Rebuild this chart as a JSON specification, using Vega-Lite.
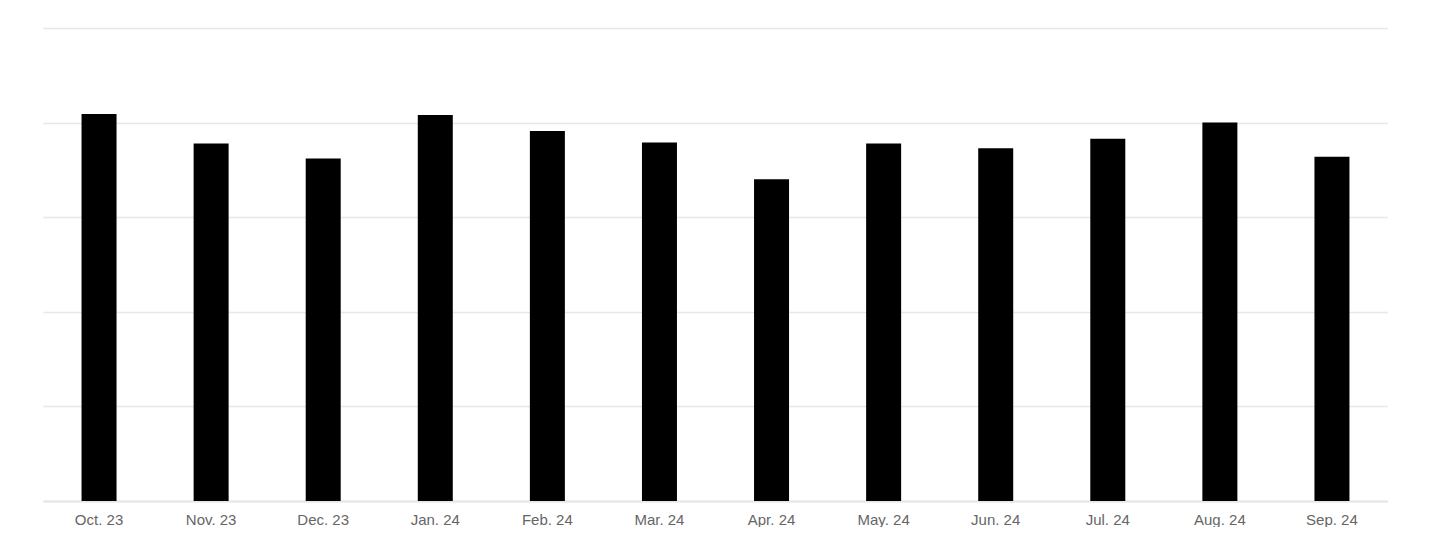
{
  "$schema": "https://vega.github.io/schema/vega-lite/v6.json",
  "width": 1345,
  "height": 473,
  "padding": {"left": 43, "top": 28, "right": 0, "bottom": 0},
  "background": "white",
  "config": {
    "view": {"stroke": null},
    "font": "Liberation Sans"
  },
  "data": {
    "values": [
      {"month": "Oct. 23", "value": 4.09},
      {"month": "Nov. 23", "value": 3.78},
      {"month": "Dec. 23", "value": 3.62},
      {"month": "Jan. 24", "value": 4.08},
      {"month": "Feb. 24", "value": 3.91},
      {"month": "Mar. 24", "value": 3.79},
      {"month": "Apr. 24", "value": 3.40},
      {"month": "May. 24", "value": 3.78},
      {"month": "Jun. 24", "value": 3.73},
      {"month": "Jul. 24", "value": 3.83},
      {"month": "Aug. 24", "value": 4.0},
      {"month": "Sep. 24", "value": 3.64}
    ]
  },
  "mark": {"type": "bar", "color": "#000000", "width": 35},
  "encoding": {
    "x": {
      "field": "month",
      "type": "nominal",
      "sort": null,
      "title": null,
      "scale": {"paddingInner": 0, "paddingOuter": 0},
      "axis": {
        "labelAngle": 0,
        "labelColor": "#666666",
        "labelFontSize": 15,
        "labelPadding": 11,
        "ticks": false,
        "domainColor": "#e6e6e6",
        "domainWidth": 2
      }
    },
    "y": {
      "field": "value",
      "type": "quantitative",
      "title": null,
      "scale": {"domain": [0, 5], "nice": false},
      "axis": {
        "values": [0, 1, 2, 3, 4, 5],
        "labels": false,
        "ticks": false,
        "domain": false,
        "gridColor": "#e8e8e8",
        "gridWidth": 1.5
      }
    }
  }
}
